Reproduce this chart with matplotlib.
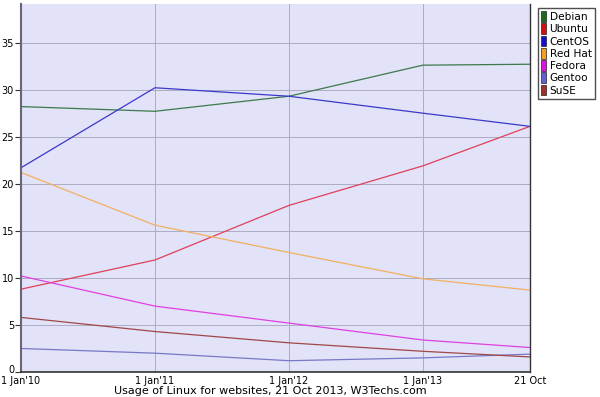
import matplotlib.pyplot as plt
import matplotlib.transforms as mtransforms
from matplotlib.patches import Patch

# time positions in years (1 Jan'10 ... 21 Oct 2013)
dates = [2010.0, 2011.0, 2012.0, 2013.0, 2013.8]
date_labels = ["1 Jan'10", "1 Jan'11", "1 Jan'12", "1 Jan'13", "21 Oct"]

names = ["Debian", "Ubuntu", "CentOS", "Red Hat", "Fedora", "Gentoo", "SuSE"]
debian = [28.2, 27.7, 29.3, 32.6, 32.7]
ubuntu = [8.8, 11.9, 17.7, 21.9, 26.1]
centos = [21.7, 30.2, 29.3, 27.5, 26.1]
redhat = [21.2, 15.6, 12.7, 9.9, 8.7]
fedora = [10.2, 7.0, 5.2, 3.4, 2.6]
gentoo = [2.5, 2.0, 1.2, 1.5, 1.9]
suse = [5.8, 4.3, 3.1, 2.2, 1.6]
series = [debian, ubuntu, centos, redhat, fedora, gentoo, suse]

line_colors = ["#3c7a4c", "#e0405a", "#3a3ac8", "#f2b060", "#e040e0", "#7878c8", "#a04848"]
patch_colors = ["#1a6b1a", "#d01010", "#1010d0", "#f0a020", "#e010e0", "#6060d0", "#a03030"]

fig = plt.figure(figsize=(6, 3.97), dpi=100)
ax = fig.add_axes([21/600, 25/397, 509/600, 368/397])
ax.set_facecolor("#e2e2f8")

for vals, c in zip(series, line_colors):
    ax.plot(dates, vals, color=c, lw=0.9)

ax.set_xlim(dates[0], dates[-1])
ax.set_ylim(0, 39.1)
ax.set_yticks(range(0, 40, 5))
ax.set_xticks(dates)
ax.set_xticklabels(date_labels)
ax.tick_params(axis="y", labelsize=7, length=4, width=0.8, color="#333333", pad=1)
ax.tick_params(axis="x", labelsize=7, length=0, pad=3)
ax.grid(True, color="#acacc4", lw=0.7)
ax.set_axisbelow(True)

# lift the "0" label a little so it sits above the first date label
zero_lbl = ax.get_yticklabels()[0]
zero_lbl.set_transform(zero_lbl.get_transform() +
                       mtransforms.ScaledTranslation(0, 3/100, fig.dpi_scale_trans))

ax.spines["top"].set_visible(False)
ax.spines["left"].set_color("#666677")
ax.spines["left"].set_linewidth(1.5)
ax.spines["bottom"].set_color("#333333")
ax.spines["bottom"].set_linewidth(1.2)
ax.spines["right"].set_color("#333333")
ax.spines["right"].set_linewidth(1.0)

handles = [Patch(facecolor=c, edgecolor="#222222", lw=0.5) for c in patch_colors]
fig.legend(handles, names, loc="upper left", bbox_to_anchor=(538/600, 1 - 8/397),
           fontsize=7.6, frameon=True, fancybox=False, edgecolor="#222222",
           handlelength=0.5, handleheight=1.2, handletextpad=0.3,
           labelspacing=0.12, borderpad=0.3, borderaxespad=0)

fig.text(270/600, 1 - 391/397, "Usage of Linux for websites, 21 Oct 2013, W3Techs.com",
         ha="center", va="center", fontsize=8)

fig.savefig("out.png", dpi=100)
